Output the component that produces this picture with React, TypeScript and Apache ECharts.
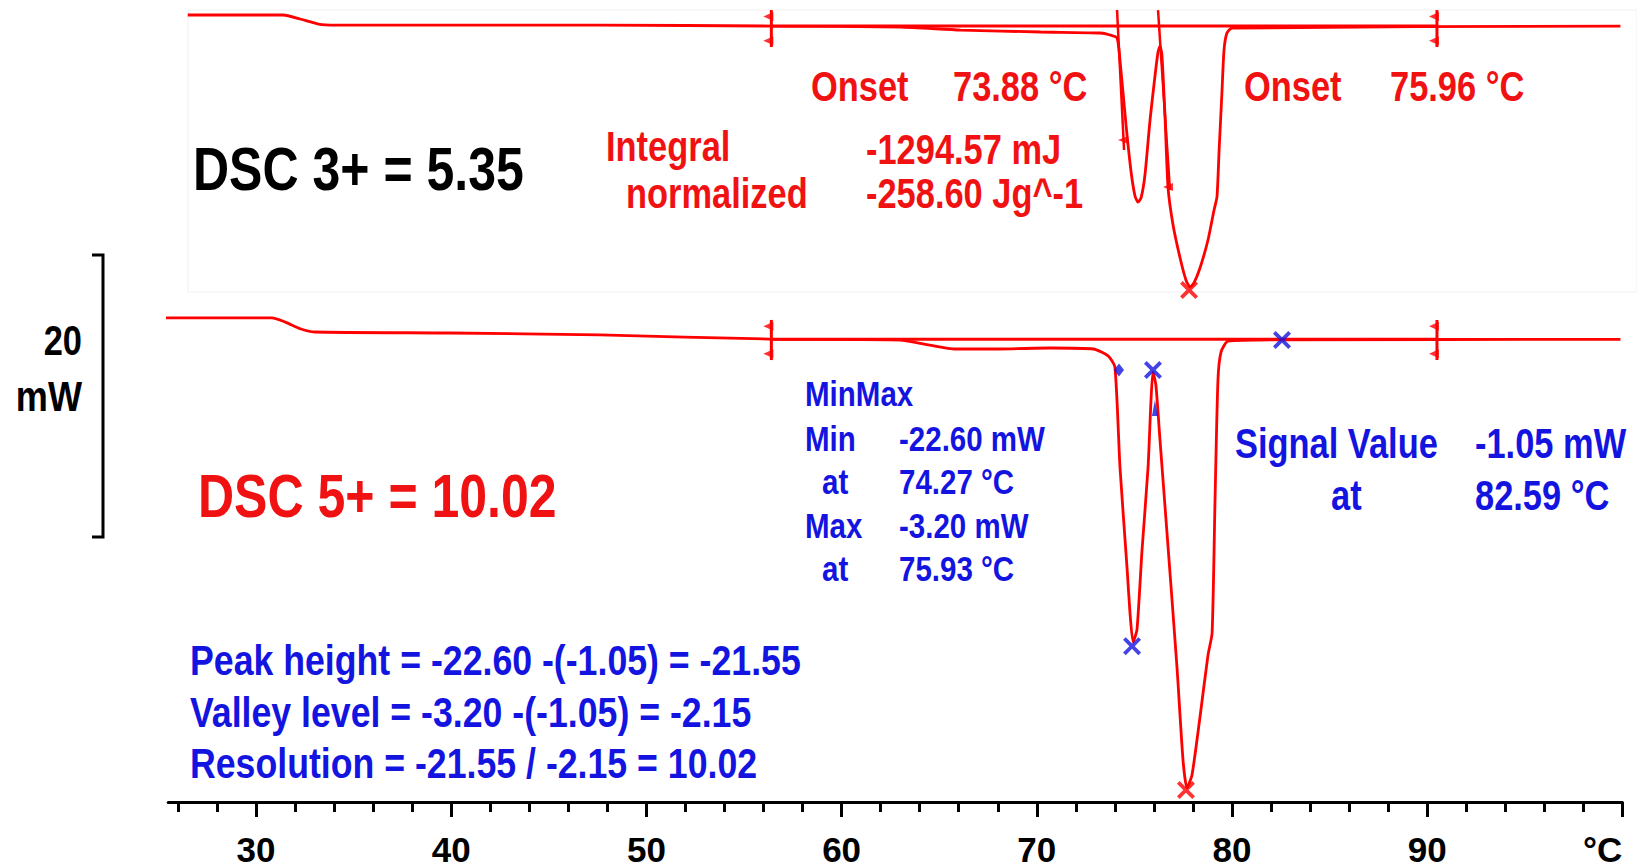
import React, { useEffect, useRef } from "react";
import * as echarts from "echarts";

// ---------- axis ----------
const X_MIN = 25.5;
const X_MAX = 100;
const Y_MIN = -33.7;
const Y_MAX = 22.9;
const UPPER_OFFSET = 22.1; // vertical shift of the DSC 3+ trace (mW)

const MAJOR_TICKS = [30, 40, 50, 60, 70, 80, 90, 100];
const MINOR_TICKS = [26, 28, 32, 34, 36, 38, 42, 44, 46, 48, 52, 54, 56, 58, 62, 64, 66, 68, 72, 74, 76, 78, 82, 84, 86, 88, 92, 94, 96, 98];
const TICK_LABELS = ["30", "40", "50", "60", "70", "80", "90", "°C"];

// ---------- DSC 5+ (lower trace) ----------
const LOWER_T = [25.3, 30.8, 31.5, 32.3, 33.0, 39.9, 47.6, 56.3, 63.0, 64.5, 65.8, 68.1, 70.7, 72.9, 73.65, 74.0, 74.26, 74.62, 74.77, 74.93, 75.13, 75.39, 75.7, 75.85, 75.95, 76.1, 76.31, 76.67, 77.18, 77.49, 77.69, 77.95, 78.36, 78.77, 78.98, 79.13, 79.28, 79.44, 79.8, 82.6, 99.9];
const LOWER_MW = [0.46, 0.46, 0.17, -0.32, -0.53, -0.6, -0.74, -1.03, -1.1, -1.45, -1.73, -1.73, -1.66, -1.73, -2.22, -3.0, -10.06, -17.12, -20.29, -22.41, -21.56, -15.92, -10.06, -5.33, -3.35, -4.27, -8.15, -14.72, -24.17, -30.74, -32.71, -31.79, -27.7, -23.33, -21.77, -12.39, -3.92, -1.94, -1.17, -1.08, -1.05];

// ---------- DSC 3+ (upper trace) ----------
const UPPER_T = [26.5, 31.4, 32.25, 33.2, 34.05, 47.6, 56.5, 63.0, 66.1, 70.2, 73.24, 73.75, 74.11, 74.26, 74.57, 74.83, 75.03, 75.18, 75.34, 75.54, 75.8, 76.06, 76.21, 76.31, 76.41, 76.57, 76.72, 76.98, 77.34, 77.64, 77.85, 78.05, 78.36, 78.77, 79.08, 79.23, 79.34, 79.49, 79.59, 79.74, 80.0, 99.9];
const UPPER_MW = [-0.26, -0.26, -0.54, -0.9, -0.97, -0.97, -1.04, -1.11, -1.32, -1.46, -1.53, -1.67, -1.88, -3.44, -8.02, -11.34, -13.03, -13.46, -13.17, -11.55, -7.67, -4.49, -2.87, -2.45, -3.08, -7.5, -12.4, -15.08, -17.41, -18.96, -19.46, -19.17, -18.11, -16.14, -14.02, -13.1, -9.79, -5.55, -2.73, -1.53, -1.18, -1.04];

// integration limits (°C) and baselines (mW)
const INTEGRATION_LIMITS = [56.4, 90.5];
const UPPER_BASELINE = -1.04;
const LOWER_BASELINE = -1.05;
const UPPER_LIMIT_SPAN = [0.09, -2.52];
const LOWER_LIMIT_SPAN = [0.32, -2.51];

// onset tangents of DSC 3+ : [T1, mW1, T2, mW2]
const UPPER_TANGENTS = [
  [74.11, 0.09, 74.47, -9.79],
  [76.21, 0.09, 76.82, -12.61],
];
const UPPER_TANGENT_POINTS = [[74.42, -9.08], [76.72, -12.4]];

// evaluation markers
const BLUE_X_MARKS = [[74.88, -22.7], [75.95, -3.21], [82.56, -1.1]];
const BLUE_DIAMOND = [[74.21, -3.21]];
const BLUE_SMALL = [[76.05, -5.9]];
const RED_X_LOWER = [[77.64, -32.85]];
const RED_X_UPPER = [[77.8, -19.67]];

const RED = "#ff0000";
const RED_TEXT = "#f01212";
const BLUE = "#1414e0";
const FONT = '"Liberation Sans", Arial, Helvetica, sans-serif';
const NARROW = 0.82; // condensed look of the original lettering
const X_SYMBOL = "path://M0,3L3,0L10,7L17,0L20,3L13,10L20,17L17,20L10,13L3,20L0,17L7,10Z";

function seg(data: number[][], color: string, width = 3) {
  return {
    type: "line",
    data,
    symbol: "none",
    silent: true,
    lineStyle: { color, width },
    z: 3,
  };
}

function txt(text: string, x: number, y: number, size: number, fill: string, align = "left", sx = NARROW) {
  return {
    type: "text",
    x,
    y,
    scaleX: sx,
    silent: true,
    style: {
      text,
      fill,
      fontSize: size,
      fontWeight: "bold",
      fontFamily: FONT,
      align,
      verticalAlign: "middle",
    },
  };
}

export default function App() {
  const ref = useRef<HTMLDivElement>(null);
  useEffect(() => {
    if (!ref.current) return;
    const chart = echarts.init(ref.current, null, { renderer: "svg" });

    const lower = LOWER_T.map((t, i) => [t, LOWER_MW[i]]);
    const upper = UPPER_T.map((t, i) => [t, UPPER_MW[i] + UPPER_OFFSET]);

    const series: any[] = [
      {
        type: "line",
        data: lower,
        symbol: "none",
        smooth: 0.2,
        lineStyle: { color: RED, width: 2.8 },
        z: 4,
      },
      {
        type: "line",
        data: upper,
        symbol: "none",
        smooth: 0.2,
        lineStyle: { color: RED, width: 2.8 },
        z: 4,
      },
      seg([[INTEGRATION_LIMITS[0], LOWER_BASELINE], [INTEGRATION_LIMITS[1], LOWER_BASELINE]], RED, 3),
      seg([[INTEGRATION_LIMITS[0], UPPER_BASELINE + UPPER_OFFSET], [INTEGRATION_LIMITS[1], UPPER_BASELINE + UPPER_OFFSET]], RED, 3),
    ];
    UPPER_TANGENTS.forEach((t) => {
      series.push(seg([[t[0], t[1] + UPPER_OFFSET], [t[2], t[3] + UPPER_OFFSET]], RED, 2.5));
    });
    INTEGRATION_LIMITS.forEach((t) => {
      series.push(seg([[t, LOWER_LIMIT_SPAN[0]], [t, LOWER_LIMIT_SPAN[1]]], RED, 3));
      series.push(seg([[t, UPPER_LIMIT_SPAN[0] + UPPER_OFFSET], [t, UPPER_LIMIT_SPAN[1] + UPPER_OFFSET]], RED, 3));
    });
    // arrowheads on integration limits
    const limitHeads: number[][] = [];
    INTEGRATION_LIMITS.forEach((t) => {
      limitHeads.push([t, LOWER_LIMIT_SPAN[0] - 0.45], [t, LOWER_LIMIT_SPAN[1] + 0.45]);
      limitHeads.push([t, UPPER_LIMIT_SPAN[0] + UPPER_OFFSET - 0.45], [t, UPPER_LIMIT_SPAN[1] + UPPER_OFFSET + 0.45]);
    });
    series.push({
      type: "scatter",
      data: limitHeads,
      symbol: "triangle",
      symbolSize: [9, 10],
      symbolRotate: 90,
      symbolOffset: [-3, 0],
      itemStyle: { color: RED },
      silent: true,
      z: 5,
    });
    series.push({
      type: "scatter",
      data: UPPER_TANGENT_POINTS.map((p) => [p[0], p[1] + UPPER_OFFSET]),
      symbol: "triangle",
      symbolSize: [8, 10],
      symbolRotate: 90,
      itemStyle: { color: RED },
      silent: true,
      z: 5,
    });
    series.push({
      type: "scatter",
      data: [...RED_X_LOWER, ...RED_X_UPPER.map((p) => [p[0], p[1] + UPPER_OFFSET])],
      symbol: X_SYMBOL,
      symbolSize: 18,
      itemStyle: { color: RED },
      silent: true,
      z: 6,
    });
    series.push({
      type: "scatter",
      data: BLUE_X_MARKS,
      symbol: X_SYMBOL,
      symbolSize: 18,
      itemStyle: { color: BLUE },
      silent: true,
      z: 6,
    });
    series.push({
      type: "scatter",
      data: BLUE_DIAMOND,
      symbol: "diamond",
      symbolSize: [10, 13],
      itemStyle: { color: BLUE },
      silent: true,
      z: 6,
    });
    series.push({
      type: "scatter",
      data: BLUE_SMALL,
      symbol: "triangle",
      symbolSize: [6, 16],
      itemStyle: { color: BLUE },
      silent: true,
      z: 6,
    });

    const axisLabelFmt = (v: number) => {
      const i = MAJOR_TICKS.indexOf(Math.round(v));
      return i >= 0 ? TICK_LABELS[i] : "";
    };

    chart.setOption({
      animation: false,
      backgroundColor: "#ffffff",
      grid: { left: 168.2, right: 14.6, top: 0, bottom: 66, containLabel: false, outerBoundsMode: "none" },
      xAxis: [
        {
          type: "value",
          min: X_MIN,
          max: X_MAX,
          position: "bottom",
          splitLine: { show: false },
          axisLine: { show: true, onZero: false, lineStyle: { color: "#000", width: 3 } },
          axisTick: { show: true, customValues: MAJOR_TICKS, length: 15, lineStyle: { color: "#000", width: 3 } },
          axisLabel: {
            show: true,
            customValues: MAJOR_TICKS,
            formatter: axisLabelFmt,
            color: "#000",
            fontSize: 35,
            fontWeight: "bold",
            fontFamily: FONT,
            margin: 30,
            hideOverlap: false,
            alignMaxLabel: "right",
          },
        },
        {
          type: "value",
          min: X_MIN,
          max: X_MAX,
          position: "bottom",
          splitLine: { show: false },
          axisLine: { show: false, onZero: false },
          axisTick: { show: true, customValues: MINOR_TICKS, length: 10, lineStyle: { color: "#000", width: 3 } },
          axisLabel: { show: false },
        },
      ],
      yAxis: { type: "value", min: Y_MIN, max: Y_MAX, show: false, splitLine: { show: false } },
      series,
      graphic: [
        {
          type: "rect",
          shape: { x: 188, y: 10, width: 1449, height: 282 },
          style: { fill: "none", stroke: "#f1f1f1", lineWidth: 1 },
          silent: true,
          z: -10,
        },
        {
          type: "polyline",
          shape: { points: [[92, 255], [103, 255], [103, 537], [92, 537]] },
          style: { stroke: "#000", lineWidth: 3, fill: "none" },
          silent: true,
        },
        txt("20", 82, 340, 42, "#000", "right"),
        txt("mW", 82, 397, 42, "#000", "right", 0.86),
        txt("DSC 3+ = 5.35", 193, 169, 61, "#000"),
        txt("Onset", 811, 86, 42, RED_TEXT),
        txt("73.88 °C", 953, 86, 42, RED_TEXT),
        txt("Integral", 606, 146, 42, RED_TEXT),
        txt("-1294.57 mJ", 866, 149, 42, RED_TEXT),
        txt("normalized", 626, 193, 42, RED_TEXT),
        txt("-258.60 Jg^-1", 866, 193, 42, RED_TEXT),
        txt("Onset", 1244, 86, 42, RED_TEXT),
        txt("75.96 °C", 1390, 86, 42, RED_TEXT),
        txt("DSC 5+ = 10.02", 198, 496, 61, RED_TEXT),
        txt("MinMax", 805, 393, 36, BLUE),
        txt("Min", 805, 438, 36, BLUE),
        txt("-22.60 mW", 899, 438, 36, BLUE),
        txt("at", 822, 481, 36, BLUE),
        txt("74.27 °C", 899, 481, 36, BLUE),
        txt("Max", 805, 525, 36, BLUE),
        txt("-3.20 mW", 899, 525, 36, BLUE),
        txt("at", 822, 568, 36, BLUE),
        txt("75.93 °C", 899, 568, 36, BLUE),
        txt("Signal Value", 1235, 443, 42, BLUE),
        txt("-1.05 mW", 1475, 443, 42, BLUE),
        txt("at", 1331, 495, 42, BLUE),
        txt("82.59 °C", 1475, 495, 42, BLUE),
        txt("Peak height = -22.60 -(-1.05) = -21.55", 190, 660, 43, BLUE, "left", 0.83),
        txt("Valley level = -3.20 -(-1.05) = -2.15", 190, 712, 43, BLUE, "left", 0.83),
        txt("Resolution = -21.55 / -2.15 = 10.02", 190, 763, 43, BLUE, "left", 0.83),
      ],
    });
    return () => chart.dispose();
  }, []);

  return (
    <div
      ref={ref}
      style={{ position: "fixed", left: 0, top: 0, width: 1637, height: 868, background: "#fff" }}
    />
  );
}
